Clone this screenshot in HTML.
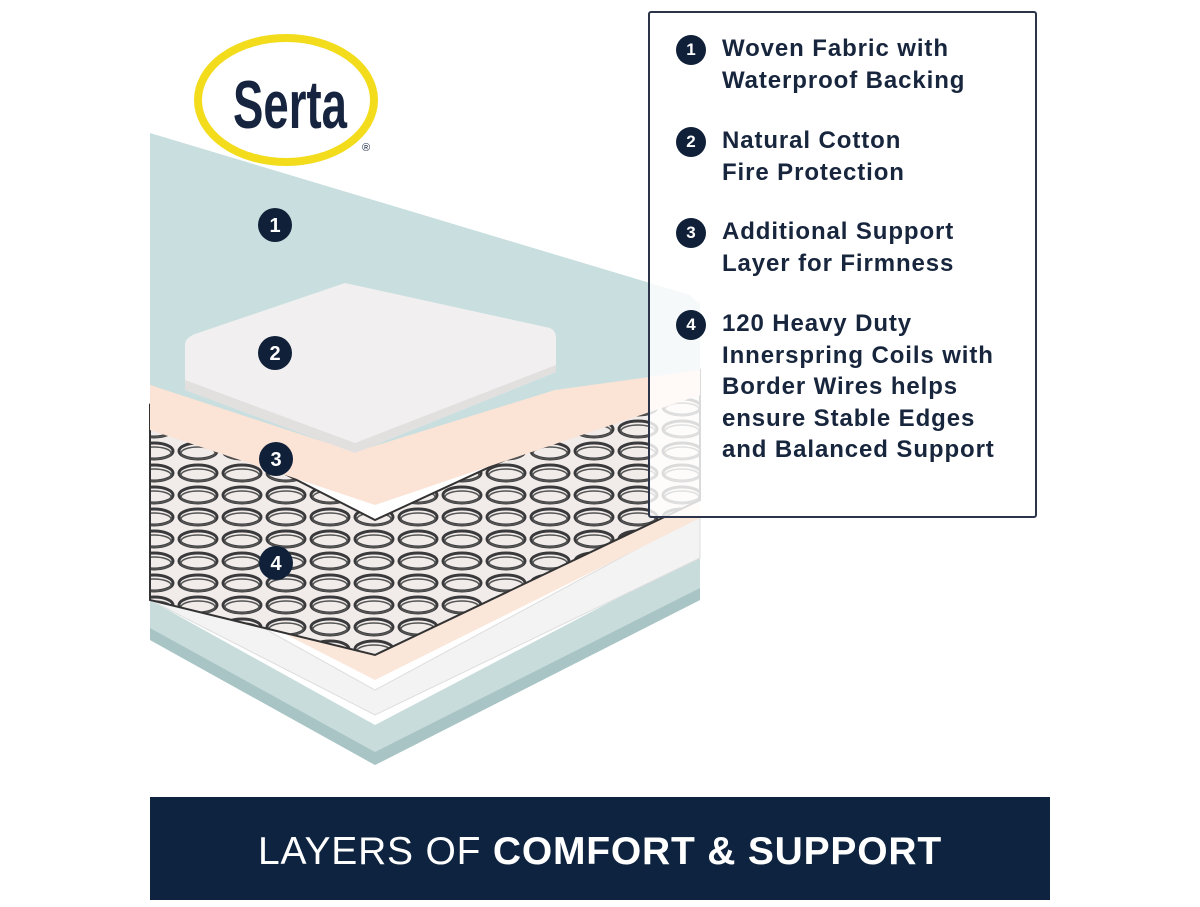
<!DOCTYPE html>
<html><head><style>
body{margin:0;width:1200px;height:900px;background:#fff;overflow:hidden;position:relative;font-family:"Liberation Sans",sans-serif}
.panel{position:absolute;left:648px;top:11px;width:385px;height:503px;border:2px solid #2b3448;border-radius:3px;background:rgba(255,255,255,0.82)}
.item{position:absolute;left:72px;font-size:24px;font-weight:bold;color:#17253d;line-height:31.5px;letter-spacing:0.9px;white-space:nowrap}
.b{position:absolute;left:26px;width:30px;height:30px;border-radius:50%;background:#0f2038;color:#fff;font-size:17px;font-weight:bold;text-align:center;line-height:30px}
.bar{position:absolute;left:150px;top:797px;width:900px;height:103px;background:#0e2340;color:#fff;text-align:center;line-height:110px;font-size:39px;letter-spacing:0.8px}
</style></head><body>
<svg width="1200" height="900" style="position:absolute;left:0;top:0">
<defs>
<pattern id="coil" width="44" height="22" patternUnits="userSpaceOnUse">
<rect width="44" height="22" fill="#f1ecea"/>
<ellipse cx="22" cy="11" rx="19" ry="8" fill="none" stroke="#3a3a3c" stroke-width="3"/>
<ellipse cx="22" cy="13" rx="17" ry="6" fill="none" stroke="#555" stroke-width="1.5"/>
</pattern>
</defs>
<polygon points="150,600 375,725 700,555 700,600 375,765 150,640" fill="#c8dcdc"/>
<polygon points="150,628 375,752 700,588 700,600 375,765 150,640" fill="#a9c4c4"/>
<polygon points="150,565 375,690 700,515 700,558 375,715 150,600" fill="#f3f3f3" stroke="#ddd"/>
<polygon points="150,520 375,640 700,470 700,518 375,680 150,565" fill="#fbe6da"/>
<polygon points="150,405 375,520 700,370 700,500 375,655 150,600" fill="url(#coil)" stroke="#333" stroke-width="2"/>
<polygon points="150,370 360,430 700,300 700,395 375,505 150,430" fill="#fbe3d6"/>
<polygon points="150,133 690,295 700,305 700,370 555,390 355,452 150,385" fill="#c9dfdf"/>
<path d="M185,345 Q185,338 195,334 L345,283 L550,328 Q556,331 556,338 L556,372 L355,453 L185,390 Z" fill="#f1efef"/>
<path d="M185,380 L355,443 L556,365 L556,372 L355,453 L185,390 Z" fill="#e2dfdf"/>
<g fill="#0f2038"><circle cx="275" cy="225" r="17"/><circle cx="275" cy="353" r="17"/><circle cx="276" cy="459" r="17"/><circle cx="276" cy="563" r="17"/></g>
<g fill="#fff" font-family="Liberation Sans" font-weight="bold" font-size="20" text-anchor="middle">
<text x="275" y="232">1</text><text x="275" y="360">2</text><text x="276" y="466">3</text><text x="276" y="570">4</text></g>
<ellipse cx="286" cy="100" rx="88" ry="62" fill="#fff" stroke="#f2dc1c" stroke-width="8"/>
<text x="290" y="128" text-anchor="middle" font-family="Liberation Sans Narrow, Liberation Sans" font-weight="bold" font-size="68" fill="#16243f" textLength="114" lengthAdjust="spacingAndGlyphs">Serta</text>
<text x="362" y="151" font-size="11" fill="#16243f" font-family="Liberation Sans">®</text>
</svg>
<div class="panel">
<div class="b" style="top:22px">1</div><div class="item" style="top:20px">Woven Fabric with<br>Waterproof Backing</div>
<div class="b" style="top:114px">2</div><div class="item" style="top:112px">Natural Cotton<br>Fire Protection</div>
<div class="b" style="top:205px">3</div><div class="item" style="top:203px">Additional Support<br>Layer for Firmness</div>
<div class="b" style="top:297px">4</div><div class="item" style="top:295px">120 Heavy Duty<br>Innerspring Coils with<br>Border Wires helps<br>ensure Stable Edges<br>and Balanced Support</div>
</div>
<div class="bar"><span style="font-weight:normal">LAYERS OF </span><span style="font-weight:bold">COMFORT &amp; SUPPORT</span></div>
</body></html>
